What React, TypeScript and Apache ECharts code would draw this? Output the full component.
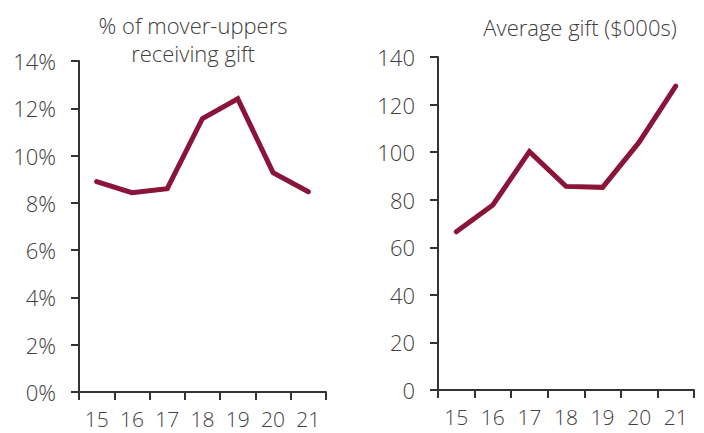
import React, { useEffect, useRef } from "react";
import * as echarts from "echarts";

const years = ["15", "16", "17", "18", "19", "20", "21"];
const shareReceivingGift = [8.9, 8.43, 8.6, 11.57, 12.4, 9.28, 8.47];
const averageGift = [66.5, 77.8, 100.2, 85.6, 85.2, 104.2, 127.8];
const leftTitle = "% of mover-uppers\nreceiving gift";
const rightTitle = "Average gift ($000s)";

const LINE = "#8A1538";
const AXIS = "#333333";
const TEXT = "#404040";
const FONT = "'Open Sans'";

export default function App() {
  const ref = useRef<HTMLDivElement>(null);
  useEffect(() => {
    if (!ref.current) return;
    const chart = echarts.init(ref.current, null, { renderer: "svg" });
    const xAxisBase = (gridIndex: number) => ({
      type: "category" as const,
      gridIndex,
      data: years,
      boundaryGap: true,
      axisLine: { show: true, lineStyle: { color: AXIS, width: 2 } },
      axisTick: { show: true, length: 8, inside: false, lineStyle: { color: AXIS, width: 2 } },
      axisLabel: { color: TEXT, fontSize: 21, fontWeight: 300, fontFamily: FONT, margin: 16, lineHeight: 21 },
      splitLine: { show: false },
    });
    const yAxisBase = (gridIndex: number, max: number, interval: number, fmt: string) => ({
      type: "value" as const,
      gridIndex,
      min: 0,
      max,
      interval,
      axisLine: { show: true, lineStyle: { color: AXIS, width: 2 } },
      axisTick: { show: true, length: 8, lineStyle: { color: AXIS, width: 2 } },
      axisLabel: { color: TEXT, fontSize: 22, fontWeight: 300, fontFamily: FONT, margin: 23, formatter: fmt },
      splitLine: { show: false },
    });
    chart.setOption({
      animation: false,
      backgroundColor: "#ffffff",
      title: [
        {
          text: leftTitle,
          left: 188,
          top: 6,
          textAlign: "center",
          textStyle: { color: TEXT, fontSize: 22, fontWeight: 300, fontFamily: FONT, lineHeight: 28 },
        },
        {
          text: rightTitle,
          left: 575,
          top: 8,
          textAlign: "center",
          textStyle: { color: TEXT, fontSize: 22, fontWeight: 300, fontFamily: FONT, lineHeight: 28 },
        },
      ],
      grid: [
        { left: 79, right: 378, top: 61, bottom: 41 },
        { left: 438, right: 10, top: 57, bottom: 43 },
      ],
      xAxis: [xAxisBase(0), xAxisBase(1)],
      yAxis: [yAxisBase(0, 14, 2, "{value}%"), yAxisBase(1, 140, 20, "{value}")],
      series: [
        {
          type: "line",
          xAxisIndex: 0,
          yAxisIndex: 0,
          data: shareReceivingGift,
          symbol: "none",
          lineStyle: { color: LINE, width: 5, cap: "round", join: "miter" },
        },
        {
          type: "line",
          xAxisIndex: 1,
          yAxisIndex: 1,
          data: averageGift,
          symbol: "none",
          lineStyle: { color: LINE, width: 5, cap: "round", join: "miter" },
        },
      ],
    });
    return () => chart.dispose();
  }, []);
  return <div ref={ref} style={{ width: 704, height: 433, position: "fixed", left: 0, top: 0 }} />;
}
